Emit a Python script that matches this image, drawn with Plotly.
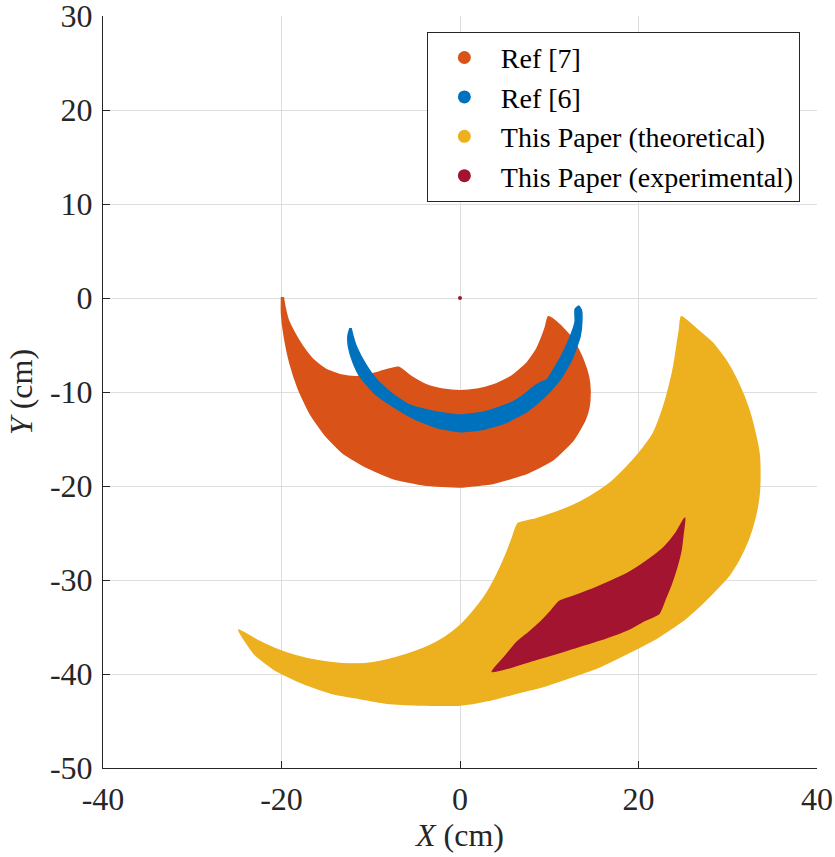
import plotly.graph_objects as go

# ---- data (cm), boundaries ----
ref7_x = [-20.0, -20.0, -19.7, -19.05, -18.1, -16.8, -15.1, -13.1, -10.5, -7.5, -4.0, 0.0, 3.8, 7.5, 10.45, 12.7, 14.0, 14.45, 14.57, 14.4, 13.8, 12.7, 11.2, 9.9,
          9.6, 9.33, 8.6, 7.47, 5.8, 3.73, 1.9, 0.0, -1.9, -3.73, -5.4, -6.9, -8.96, -10.3, -11.6, -13.3, -14.9, -16.4, -17.6, -18.6, -19.24, -19.6, -19.8]
ref7_y = [0.1, -1.6, -4.0, -6.95, -9.7, -12.3, -14.6, -16.5, -18.0, -19.2, -19.9, -20.1, -19.7, -18.65, -17.2, -15.1, -13.0, -11.6, -9.8, -8.37, -6.6, -4.47, -2.87, -2.0,
          -3.0, -3.76, -5.4, -6.95, -8.3, -9.26, -9.7, -9.86, -9.7, -9.26, -8.4, -7.37, -7.84, -8.2, -8.37, -8.2, -7.66, -6.6, -5.18, -3.6, -2.34, -1.0, 0.1]

ref6_x = [-12.33, -12.55, -12.5, -12.0, -11.2, -9.5, -7.47, -5.0, -2.5, 0.0, 2.5, 5.0, 7.47, 9.5, 11.2, 12.5, 13.45, 13.65, 13.6, 13.3,
          12.9, 12.9, 12.5, 11.4, 9.71, 9.2, 8.4, 7.0, 5.6, 2.8, 0.0, -2.8, -5.6, -7.6, -9.33, -10.6, -11.6, -12.0, -12.2]
ref6_y = [-3.2, -4.0, -5.18, -6.8, -8.37, -10.2, -11.56, -12.9, -13.8, -14.22, -14.0, -13.3, -12.1, -10.5, -8.7, -6.6, -4.1, -2.5, -1.3, -0.85,
          -1.2, -2.5, -3.76, -6.1, -8.72, -8.9, -9.36, -10.4, -11.2, -12.1, -12.45, -12.1, -11.4, -10.2, -8.7, -7.0, -5.18, -4.0, -3.2]

theo_x = [24.8, 26.5, 28.3, 29.9, 31.2, 32.3, 33.07, 33.5, 33.6, 33.5, 33.07, 32.3, 31.2, 29.9, 28.3, 26.7, 25.0, 22.0, 18.76, 15.7, 12.54, 9.4, 6.3, 3.2, 0.08,
          -4.0, -8.2, -11.3, -14.4, -17.6, -20.66, -23.0, -24.8,
          -22.75, -20.7, -18.6, -15.9, -13.2, -10.7, -8.2, -5.9, -3.65, -1.7, 0.08, 1.6, 3.0, 4.1, 5.06, 5.8, 6.5,
          8.5, 10.45, 12.6, 14.6, 16.8, 18.76, 20.4, 21.66, 22.7, 23.53, 24.0, 24.36, 24.6, 24.8]
theo_y = [-2.0, -3.3, -4.8, -6.8, -9.1, -11.7, -14.4, -16.5, -18.65, -21.0, -23.3, -25.7, -27.9, -29.8, -31.4, -32.9, -34.3, -36.2, -37.8, -39.2, -40.3, -41.3, -42.05, -42.8, -43.3,
          -43.3, -43.1, -42.6, -42.05, -41.0, -39.6, -37.9, -35.3,
          -36.4, -37.3, -38.0, -38.6, -38.9, -38.9, -38.5, -37.9, -37.1, -36.1, -34.8, -33.2, -31.4, -29.5, -27.5, -25.7, -24.0,
          -23.5, -22.9, -22.1, -21.1, -19.7, -17.9, -16.1, -14.4, -11.9, -9.1, -7.0, -4.8, -3.3, -2.0]

exp_x = [25.19, 25.0, 24.77, 24.3, 23.7, 23.0, 22.3, 20.5, 18.76, 15.6, 12.54, 10.5, 8.4, 6.0, 3.6,
         5.0, 6.3, 7.8, 9.2, 10.2, 11.1, 12.8, 14.6, 16.7, 18.76, 20.9, 22.9, 24.2, 25.19]
exp_y = [-23.4, -25.0, -26.8, -28.6, -30.35, -32.0, -33.55, -34.4, -35.3, -36.4, -37.3, -37.9, -38.5, -39.2, -39.75,
         -38.2, -36.7, -35.5, -34.3, -33.3, -32.3, -31.7, -31.06, -30.2, -29.3, -28.0, -26.5, -25.0, -23.4]

origin_x = [0.0]
origin_y = [0.0]

names = ["Ref [7]", "Ref [6]", "This Paper (theoretical)", "This Paper (experimental)"]
colors = ["#D95319", "#0072BD", "#EDB120", "#A2142F"]
shapes = [(ref7_x, ref7_y), (ref6_x, ref6_y), (theo_x, theo_y), (exp_x, exp_y)]

x_ticks = [-40, -20, 0, 20, 40]
x_tick_text = ["-40", "-20", "0", "20", "40"]
y_ticks = [-50, -40, -30, -20, -10, 0, 10, 20, 30]
y_tick_text = ["-50", "-40", "-30", "-20", "-10", "0", "10", "20", "30"]

FONT = "Liberation Serif"
TXT = "#262626"

fig = go.Figure()
for (sx, sy), c in zip(shapes, colors):
    fig.add_trace(go.Scatter(x=sx, y=sy, mode="lines", fill="toself", fillcolor=c,
                             line=dict(color=c, width=1.5, shape="spline", smoothing=0.5),
                             showlegend=False, hoverinfo="skip"))
fig.add_trace(go.Scatter(x=origin_x, y=origin_y, mode="markers",
                         marker=dict(color=colors[3], size=4), showlegend=False))
for n, c in zip(names, colors):
    fig.add_trace(go.Scatter(x=[None], y=[None], mode="markers", name=n,
                             marker=dict(color=c, size=13)))

def axis(rng, vals, text, title, lab_standoff, title_standoff):
    return dict(range=rng, tickvals=vals, ticktext=text,
                showgrid=True, gridcolor="#dedede", gridwidth=1, zeroline=False,
                showline=True, linecolor=TXT, linewidth=1,
                ticks="inside", ticklen=7, tickcolor=TXT, automargin=False,
                ticklabelstandoff=lab_standoff, ticklabeloverflow="allow",
                tickfont=dict(family=FONT, size=32, color=TXT),
                title=dict(text=title, font=dict(family=FONT, size=32, color=TXT),
                           standoff=title_standoff))

fig.update_layout(
    width=835, height=857,
    margin=dict(l=103, r=18, t=16, b=89, autoexpand=False),
    paper_bgcolor="white", plot_bgcolor="white",
    font=dict(family=FONT, color=TXT, size=28),
    xaxis=axis([-40, 40], x_ticks, x_tick_text, "<i>X</i> (cm)", 3, 0),
    yaxis=axis([-50, 30], y_ticks, y_tick_text, "<i>Y</i> (cm)", 3, 7),
    legend=dict(x=0.976, xanchor="right", y=0.979, yanchor="top",
                font=dict(family=FONT, size=28, color="#000000"),
                bgcolor="white", bordercolor=TXT, borderwidth=1,
                itemwidth=63, tracegroupgap=0),
    showlegend=True,
)

# remove the browser's default 8px body margin so the figure sits at the page origin
fig.write_html("out.html", config={"displayModeBar": False},
               post_script="document.body.style.margin='0';")
